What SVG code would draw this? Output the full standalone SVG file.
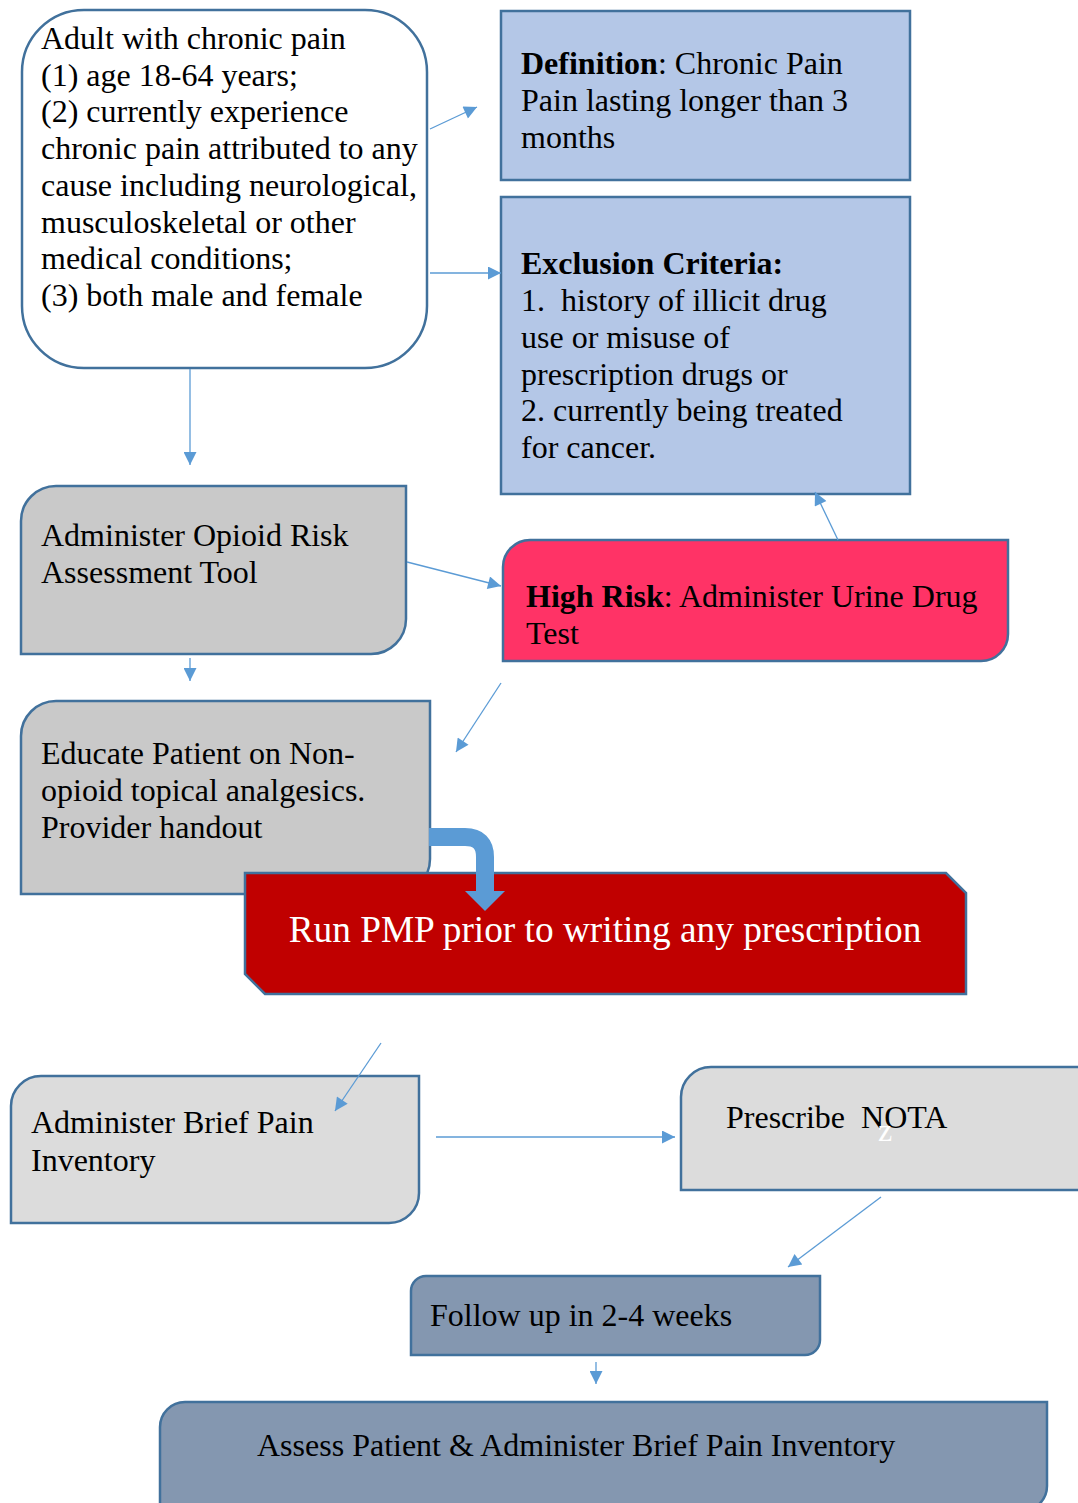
<svg xmlns="http://www.w3.org/2000/svg" width="1078" height="1503" viewBox="0 0 1078 1503">
  <style>
    .box { stroke: #41719C; stroke-width: 2.5; }
    .t { font-family: "Liberation Serif", "Times New Roman", serif; font-size: 32px; fill: #000; }
    .b { font-weight: bold; }
    .w { fill: #fff; }
    .con { stroke: #5B9BD5; stroke-width: 1.3; fill: none; marker-end: url(#arrow); }
  </style>
  <defs>
    <marker id="arrow" viewBox="0 0 10 10" refX="10" refY="5" markerWidth="15" markerHeight="13" markerUnits="userSpaceOnUse" orient="auto">
      <path d="M0,0 L10,5 L0,10 Z" fill="#5B9BD5"/>
    </marker>
  </defs>
  <rect width="1078" height="1503" fill="#fff"/>

  <g id="node-adult">
    <rect class="box" x="22" y="10" width="405" height="358" rx="62" ry="62" fill="#fff"/>
    <text class="t" x="41" y="49">Adult with chronic pain</text>
    <text class="t" x="41" y="86">(1) age 18-64 years;</text>
    <text class="t" x="41" y="122">(2) currently experience</text>
    <text class="t" x="41" y="159">chronic pain attributed to any</text>
    <text class="t" x="41" y="196">cause including neurological,</text>
    <text class="t" x="41" y="233">musculoskeletal or other</text>
    <text class="t" x="41" y="269">medical conditions;</text>
    <text class="t" x="41" y="306">(3) both male and female</text>
  </g>

  <g id="node-definition">
    <rect class="box" x="501" y="11" width="409" height="169" fill="#B4C7E7"/>
    <text class="t" x="521" y="74"><tspan class="b">Definition</tspan>: Chronic Pain</text>
    <text class="t" x="521" y="111">Pain lasting longer than 3</text>
    <text class="t" x="521" y="148">months</text>
  </g>

  <g id="node-exclusion">
    <rect class="box" x="501" y="197" width="409" height="297" fill="#B4C7E7"/>
    <text class="t b" x="521" y="274">Exclusion Criteria:</text>
    <text class="t" x="521" y="311" xml:space="preserve">1.  history of illicit drug</text>
    <text class="t" x="521" y="348">use or misuse of</text>
    <text class="t" x="521" y="385">prescription drugs or</text>
    <text class="t" x="521" y="421">2. currently being treated</text>
    <text class="t" x="521" y="458">for cancer.</text>
  </g>

  <g id="node-ort">
    <path class="box" d="M56,486 H406 V619 A35,35 0 0 1 371,654 H21 V521 A35,35 0 0 1 56,486 Z" fill="#C9C9C9"/>
    <text class="t" x="41" y="546">Administer Opioid Risk</text>
    <text class="t" x="41" y="583">Assessment Tool</text>
  </g>

  <g id="node-high-risk">
    <path class="box" d="M530,540 H1008 V634 A27,27 0 0 1 981,661 H503 V567 A27,27 0 0 1 530,540 Z" fill="#FF3366"/>
    <text class="t" x="526" y="607"><tspan class="b">High Risk</tspan>: Administer Urine Drug</text>
    <text class="t" x="526" y="644">Test</text>
  </g>

  <g id="node-educate">
    <path class="box" d="M56,701 H430 V859 A35,35 0 0 1 395,894 H21 V736 A35,35 0 0 1 56,701 Z" fill="#C9C9C9"/>
    <text class="t" x="41" y="764">Educate Patient on Non-</text>
    <text class="t" x="41" y="801">opioid topical analgesics.</text>
    <text class="t" x="41" y="838">Provider handout</text>
  </g>

  <g id="node-pmp">
    <path class="box" d="M245,873 H946 L966,893 V994 H265 L245,974 Z" fill="#C00000"/>
    <text class="t w" x="605" y="942" text-anchor="middle" style="font-size:37.3px">Run PMP prior to writing any prescription</text>
  </g>

  <g id="node-brief-pain">
    <path class="box" d="M41,1076 H419 V1193 A30,30 0 0 1 389,1223 H11 V1106 A30,30 0 0 1 41,1076 Z" fill="#DCDCDC"/>
    <text class="t" x="31" y="1133">Administer Brief Pain</text>
    <text class="t" x="31" y="1171">Inventory</text>
  </g>

  <g id="node-prescribe">
    <path class="box" d="M711,1067 H1092 V1190 H681 V1097 A30,30 0 0 1 711,1067 Z" fill="#DCDCDC"/>
    <text class="t" x="726" y="1128" xml:space="preserve">Prescribe  NOTA</text>
    <text class="t w" x="885" y="1141" text-anchor="middle">z</text>
  </g>

  <g id="node-follow-up">
    <path class="box" d="M426,1276 H820 V1340 A15,15 0 0 1 805,1355 H411 V1291 A15,15 0 0 1 426,1276 Z" fill="#8497B0"/>
    <text class="t" x="430" y="1326">Follow up in 2-4 weeks</text>
  </g>

  <g id="node-assess">
    <path class="box" d="M185,1402 H1047 V1486 A25,25 0 0 1 1022,1511 H160 V1427 A25,25 0 0 1 185,1402 Z" fill="#8497B0"/>
    <text class="t" x="257" y="1456">Assess Patient &amp; Administer Brief Pain Inventory</text>
  </g>

  <g id="connectors">
    <line class="con" x1="430" y1="129" x2="477" y2="107"/>
    <line class="con" x1="430" y1="273" x2="501" y2="273"/>
    <line class="con" x1="190" y1="369" x2="190" y2="465"/>
    <line class="con" x1="838" y1="540" x2="815" y2="492"/>
    <line class="con" x1="407" y1="562" x2="501" y2="586"/>
    <line class="con" x1="190" y1="658" x2="190" y2="681"/>
    <line class="con" x1="501" y1="683" x2="456" y2="752"/>
    <!-- thick bent arrow from the handout step down into the PMP step -->
    <path d="M429,837 H465 Q485,837 485,857 V893" fill="none" stroke="#5B9BD5" stroke-width="18"/>
    <path d="M465,891 H505 L485,911 Z" fill="#5B9BD5"/>
    <line class="con" x1="381" y1="1043" x2="335" y2="1111"/>
    <line class="con" x1="436" y1="1137" x2="675" y2="1137"/>
    <line class="con" x1="881" y1="1197" x2="788" y2="1267"/>
    <line class="con" x1="596" y1="1362" x2="596" y2="1384"/>
  </g>
</svg>
